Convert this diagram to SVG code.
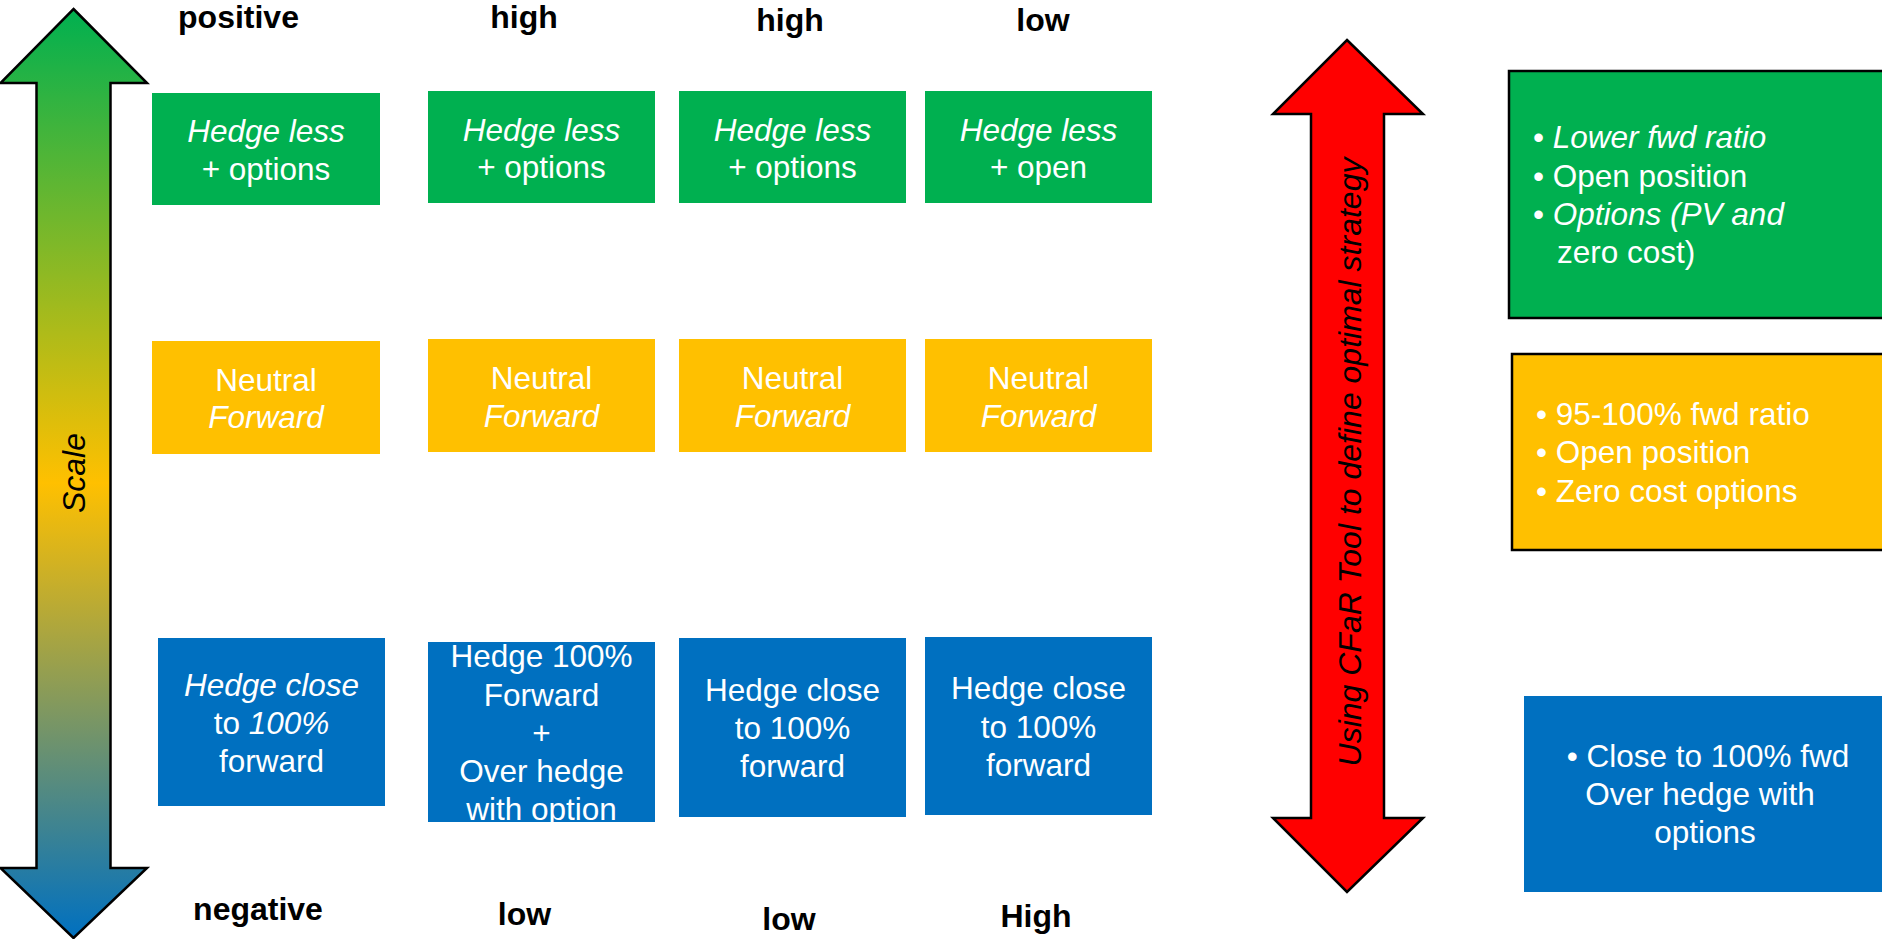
<svg xmlns="http://www.w3.org/2000/svg" width="1882" height="939" viewBox="0 0 1882 939">
  <style>
    text { font-family: "Liberation Sans", Arial, sans-serif; }
    .lbl { font-size: 32px; font-weight: bold; fill: #000; text-anchor: middle; }
    .bx { font-size: 31.5px; fill: #fff; text-anchor: middle; }
    .bl { font-size: 31.5px; fill: #fff; }
    .it { font-style: italic; }
    .green { fill: #00B050; }
    .yellow { fill: #FFC000; }
    .blue { fill: #0070C0; }
    .edged { stroke: #000; stroke-width: 2.5; }
    .axis { font-size: 32px; font-style: italic; fill: #000; text-anchor: middle; }
  </style>
  <defs>
    <linearGradient id="scaleGrad" x1="0" y1="9" x2="0" y2="938" gradientUnits="userSpaceOnUse">
      <stop offset="0" stop-color="#00B050"/>
      <stop offset="0.51" stop-color="#FFC000"/>
      <stop offset="1" stop-color="#0070C0"/>
    </linearGradient>
    <clipPath id="clipC2">
      <rect x="428" y="642" width="227" height="180"/>
    </clipPath>
  </defs>

  <rect width="1882" height="939" fill="#fff"/>

  <!-- connectors: the two double-headed arrows -->
  <g id="connectors">
    <path id="scale-arrow" d="M73.5,9 L147,83 L110.5,83 L110.5,868 L147,868 L73.5,938 L0.5,868 L36.5,868 L36.5,83 L0.5,83 Z" fill="url(#scaleGrad)" stroke="#000" stroke-width="2.5" stroke-linejoin="miter"/>
    <path id="cfar-arrow" d="M1347,40 L1423,114 L1384,114 L1384,818 L1423,818 L1347,892 L1273,818 L1311,818 L1311,114 L1273,114 Z" fill="#FF0000" stroke="#000" stroke-width="2.5"/>
    <text class="axis" transform="translate(85,473) rotate(-90)">Scale</text>
    <text class="axis" transform="translate(1361,462) rotate(-90)">Using CFaR Tool to define optimal strategy</text>
  </g>

  <!-- column headings -->
  <g id="labels">
    <text class="lbl" x="238.5" y="28">positive</text>
    <text class="lbl" x="524" y="28">high</text>
    <text class="lbl" x="790" y="31">high</text>
    <text class="lbl" x="1043" y="31">low</text>
    <text class="lbl" x="258" y="920">negative</text>
    <text class="lbl" x="524.5" y="925">low</text>
    <text class="lbl" x="789" y="930">low</text>
    <text class="lbl" x="1036" y="927">High</text>
  </g>

  <!-- column 1 -->
  <g id="c1-green">
    <rect class="green" x="152" y="93" width="228" height="112"/>
    <text class="bx it" x="266" y="142">Hedge less</text>
    <text class="bx" x="266" y="180">+ options</text>
  </g>
  <g id="c1-yellow">
    <rect class="yellow" x="152" y="341" width="228" height="113"/>
    <text class="bx" x="266" y="391">Neutral</text>
    <text class="bx it" x="266" y="428">Forward</text>
  </g>
  <g id="c1-blue">
    <rect class="blue" x="158" y="638" width="227" height="168"/>
    <text class="bx it" x="271.5" y="696">Hedge close</text>
    <text class="bx" x="271.5" y="734">to <tspan class="it">100%</tspan></text>
    <text class="bx" x="271.5" y="772">forward</text>
  </g>

  <!-- column 2 -->
  <g id="c2-green">
    <rect class="green" x="428" y="91" width="227" height="112"/>
    <text class="bx it" x="541.5" y="141">Hedge less</text>
    <text class="bx" x="541.5" y="178">+ options</text>
  </g>
  <g id="c2-yellow">
    <rect class="yellow" x="428" y="339" width="227" height="113"/>
    <text class="bx" x="541.5" y="389">Neutral</text>
    <text class="bx it" x="541.5" y="427">Forward</text>
  </g>
  <g id="c2-blue">
    <rect class="blue" x="428" y="642" width="227" height="180"/>
    <g clip-path="url(#clipC2)">
      <text class="bx" x="541.5" y="667">Hedge 100%</text>
      <text class="bx" x="541.5" y="706">Forward</text>
      <text class="bx" x="541.5" y="744">+</text>
      <text class="bx" x="541.5" y="782">Over hedge</text>
      <text class="bx" x="541.5" y="820">with option</text>
    </g>
  </g>

  <!-- column 3 -->
  <g id="c3-green">
    <rect class="green" x="679" y="91" width="227" height="112"/>
    <text class="bx it" x="792.5" y="141">Hedge less</text>
    <text class="bx" x="792.5" y="178">+ options</text>
  </g>
  <g id="c3-yellow">
    <rect class="yellow" x="679" y="339" width="227" height="113"/>
    <text class="bx" x="792.5" y="389">Neutral</text>
    <text class="bx it" x="792.5" y="427">Forward</text>
  </g>
  <g id="c3-blue">
    <rect class="blue" x="679" y="638" width="227" height="179"/>
    <text class="bx" x="792.5" y="701">Hedge close</text>
    <text class="bx" x="792.5" y="739">to 100%</text>
    <text class="bx" x="792.5" y="777">forward</text>
  </g>

  <!-- column 4 -->
  <g id="c4-green">
    <rect class="green" x="925" y="91" width="227" height="112"/>
    <text class="bx it" x="1038.5" y="141">Hedge less</text>
    <text class="bx" x="1038.5" y="178">+ open</text>
  </g>
  <g id="c4-yellow">
    <rect class="yellow" x="925" y="339" width="227" height="113"/>
    <text class="bx" x="1038.5" y="389">Neutral</text>
    <text class="bx it" x="1038.5" y="427">Forward</text>
  </g>
  <g id="c4-blue">
    <rect class="blue" x="925" y="637" width="227" height="178"/>
    <text class="bx" x="1038.5" y="699">Hedge close</text>
    <text class="bx" x="1038.5" y="738">to 100%</text>
    <text class="bx" x="1038.5" y="776">forward</text>
  </g>

  <!-- strategy summaries on the right -->
  <g id="summary-green">
    <rect class="green edged" x="1509" y="71" width="400" height="247"/>
    <text class="bl" x="1533" y="148">• <tspan class="it">Lower fwd ratio</tspan></text>
    <text class="bl" x="1533" y="187">• Open position</text>
    <text class="bl" x="1533" y="225">• <tspan class="it">Options (PV and</tspan></text>
    <text class="bl" x="1557" y="263">zero cost)</text>
  </g>
  <g id="summary-yellow">
    <rect class="yellow edged" x="1512" y="354" width="400" height="196"/>
    <text class="bl" x="1536" y="425">• 95-100% fwd ratio</text>
    <text class="bl" x="1536" y="463">• Open position</text>
    <text class="bl" x="1536" y="502">• Zero cost options</text>
  </g>
  <g id="summary-blue">
    <rect class="blue" x="1524" y="696" width="400" height="196"/>
    <text class="bx" x="1708" y="767">• Close to 100% fwd</text>
    <text class="bx" x="1700" y="805">Over hedge with</text>
    <text class="bx" x="1705" y="843">options</text>
  </g>
</svg>
